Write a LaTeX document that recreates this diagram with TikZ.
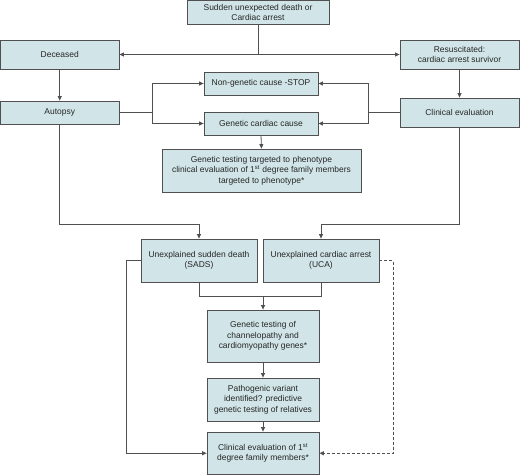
\documentclass[tikz,border=0pt]{standalone}
\usepackage{fontspec}
\setmainfont{Liberation Sans}
\usetikzlibrary{arrows.meta}
\definecolor{boxfill}{HTML}{D1E5E8}
\definecolor{linecol}{HTML}{505050}
\begin{document}
\begin{tikzpicture}[x=1bp,y=-1bp,
  box/.style={draw=linecol,fill=boxfill,line width=0.8bp,align=center,inner sep=0pt,
    font=\fontsize{8.5}{10.4}\selectfont,text=black!85},
  conn/.style={draw=linecol,line width=0.8bp},
  arr/.style={conn,-{Triangle[length=4.5bp,width=4bp]}}]
\useasboundingbox (0,0) rectangle (520,475);
% boxes
\node[box,minimum width=142bp,minimum height=23.5bp] (top) at (258,12.25) {Sudden unexpected death or\\Cardiac arrest};
\node[box,minimum width=118.5bp,minimum height=29bp] (deceased) at (59.75,54.5) {Deceased};
\node[box,minimum width=119bp,minimum height=29bp] (resus) at (459.5,54.5) {Resuscitated:\\cardiac arrest survivor};
\node[box,minimum width=118.5bp,minimum height=23bp] (autopsy) at (59.75,112.5) {Autopsy};
\node[box,minimum width=119bp,minimum height=29bp] (clin) at (459.5,112.5) {Clinical evaluation};
\node[box,minimum width=114bp,minimum height=23bp] (nongen) at (261,83.5) {Non-genetic cause -STOP};
\node[box,minimum width=114bp,minimum height=23bp] (gencause) at (261,123.5) {Genetic cardiac cause};
\node[box,minimum width=199bp,minimum height=43bp] (gtt) at (261.5,170.5) {Genetic testing targeted to phenotype\\clinical evaluation of 1\textsuperscript{st} degree family members\\targeted to phenotype*};
\node[box,minimum width=116bp,minimum height=43bp] (sads) at (199,260.5) {Unexplained sudden death\\(SADS)};
\node[box,minimum width=116bp,minimum height=43bp] (uca) at (321,260.5) {Unexplained cardiac arrest\\(UCA)};
\node[box,minimum width=112bp,minimum height=52bp] (gtest) at (263,336) {Genetic testing of\\channelopathy and\\cardiomyopathy genes*};
\node[box,minimum width=112bp,minimum height=43bp] (pathvar) at (263,399.5) {Pathogenic variant\\identified? predictive\\genetic testing of relatives};
\node[box,minimum width=112bp,minimum height=42.5bp] (clinfam) at (263,453.25) {Clinical evaluation of 1\textsuperscript{st}\\degree family members*};
% connectors
\coordinate (j1) at (258,54.5);
\draw[conn] (top.south) -- (j1);
\draw[arr] (j1) -- (deceased.east);
\draw[arr] (j1) -- (resus.west);
\draw[arr] (deceased.south) -- (autopsy.north);
\draw[arr] (resus.south) -- (clin.north);
\coordinate (jA) at (152,112.5);
\draw[conn] (autopsy.east) -- (jA);
\draw[arr] (jA) |- (nongen.west);
\draw[arr] (jA) |- (gencause.west);
\coordinate (jC) at (368,112.5);
\draw[conn] (clin.west) -- (jC);
\draw[arr] (jC) |- (nongen.east);
\draw[arr] (jC) |- (gencause.east);
\draw[arr] (gencause.south) -- (gtt.north);
\draw[arr] (autopsy.south) -- ++(0,100) -| (sads.north);
\draw[arr] (clin.south) -- ++(0,97) -| (uca.north);
\draw[conn] (sads.south) -- ++(0,14) -| (uca.south);
\coordinate (m) at (263,296);
\draw[arr] (m) -- (gtest.north);
\draw[arr] (gtest.south) -- (pathvar.north);
\draw[arr] (pathvar.south) -- (clinfam.north);
\draw[arr] (sads.west) -- ++(-14,0) |- (clinfam.west);
\draw[arr,dashed,dash pattern=on 3bp off 2bp] (uca.east) -- ++(14,0) |- (clinfam.east);
\end{tikzpicture}
\end{document}
